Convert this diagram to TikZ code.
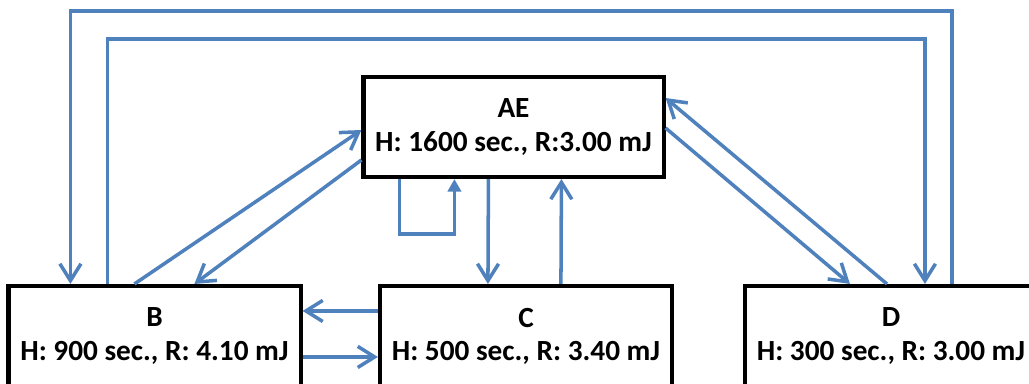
\documentclass[tikz,border=0pt]{standalone}
\usepackage{fontspec}
\setmainfont{Carlito}
\usepackage{xcolor}
\usepackage{tikz}
\usetikzlibrary{arrows.meta,calc}
\definecolor{linkblue}{RGB}{79, 129, 189}

\begin{document}
\begin{tikzpicture}[x=0.025cm, y=0.025cm, >={Straight Barb[length=12pt, width=15pt]},
    box/.style={draw=black, line width=2.9pt, fill=white, minimum height=2.5cm, inner sep=0pt,
        align=center, font=\bfseries\fontsize{20.8}{23.5}\selectfont},
    link/.style={->, line width=2.5pt, color=linkblue}]
        \useasboundingbox (0, 0) rectangle (1029, 383);

        % Node boxes
        \node[box, minimum width=7.5cm] (ae) at (513.5, 256) {AE\\H: 1600 sec., R:3.00 mJ};
        \node[box, minimum width=7.3cm] (b) at (154.5, 47) {B\\H: 900 sec., R: 4.10 mJ};
        \node[box, minimum width=7.3cm] (c) at (526, 47) {C\\H: 500 sec., R: 3.40 mJ};
        \node[box, minimum width=7.3cm] (d) at (891, 47) {D\\H: 300 sec., R: 3.00 mJ};

        % Outer loop (D to B) and inner loop (B to D)
        \draw[link] ($(d.north west)+(209, 0)$) -- ++(0, 273) -| ($(b.north west)+(64, 0)$);
        \draw[link] ($(b.north west)+(101, 0)$) -- ++(0, 245) -| ($(d.north west)+(182, 0)$);

        % B and AE
        \draw[link] ($(b.north west)+(128, 0)$) -- ($(ae.west)+(0, -3)$);
        \draw[link] ($(ae.west)+(0, -33)$) -- ($(b.north west)+(188, 0)$);

        % AE and D
        \draw[link] ($(ae.east)+(0, -1)$) -- ($(d.north west)+(107, 0)$);
        \draw[link] ($(d.north west)+(144, 0)$) -- ($(ae.east)+(0, 29)$);

        % Self loop on AE
        \draw[link, -{Triangle[length=9pt, width=9.5pt]}] ($(ae.south west)+(38, 0)$) -- ++(0, -55)
            -| ($(ae.south west)+(93, 0)$);

        % AE and C
        \draw[link] ($(ae.south west)+(127, 0)$) -- ($(c.north west)+(110, 0)$);
        \draw[link] ($(c.north west)+(183, 0)$) -- ($(ae.south west)+(200, 0)$);

        % B and C
        \draw[link] ($(c.north west)+(0, -27)$) -- ($(b.north east)+(0, -27)$);
        \draw[link] ($(b.north east)+(0, -73)$) -- ($(c.north west)+(0, -73)$);
    \end{tikzpicture}
\end{document}
